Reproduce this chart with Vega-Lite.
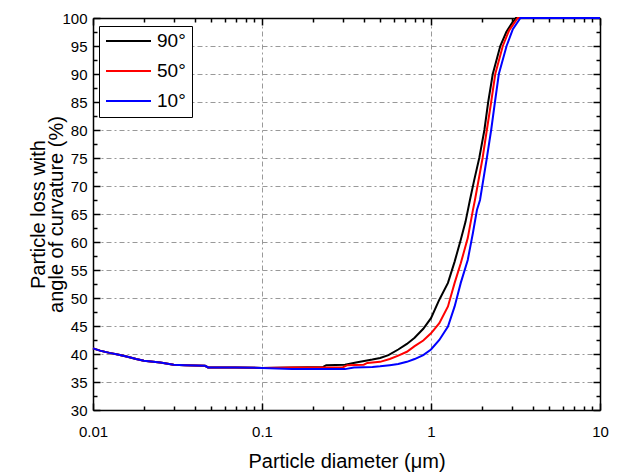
{
  "$schema": "https://vega.github.io/schema/vega-lite/v6.json",
  "autosize": "none",
  "padding": {"left": 93, "top": 18, "right": 22, "bottom": 65},
  "width": 507,
  "height": 392,
  "background": "white",
  "config": {
    "font": "Liberation Sans",
    "view": {"stroke": null},
    "axis": {
      "domainColor": "black",
      "domainWidth": 1.5,
      "tickColor": "black",
      "tickWidth": 1.5,
      "labelColor": "black",
      "titleColor": "black",
      "labelFont": "Liberation Sans",
      "titleFont": "Liberation Sans",
      "labelFontSize": 15,
      "titleFontSize": 20,
      "titleFontWeight": "normal",
      "labelFlush": false,
      "gridColor": "#999999",
      "gridDash": [5, 3, 2, 3],
      "gridWidth": 1,
      "gridOpacity": 1
    }
  },
  "data": {
    "values": [
      {"d": 0.01, "v": 41.0, "a": "90°"},
      {"d": 0.011, "v": 40.6, "a": "90°"},
      {"d": 0.0125, "v": 40.2, "a": "90°"},
      {"d": 0.014, "v": 39.9, "a": "90°"},
      {"d": 0.016, "v": 39.5, "a": "90°"},
      {"d": 0.018, "v": 39.1, "a": "90°"},
      {"d": 0.02, "v": 38.8, "a": "90°"},
      {"d": 0.025, "v": 38.5, "a": "90°"},
      {"d": 0.03, "v": 38.1, "a": "90°"},
      {"d": 0.035, "v": 38.0, "a": "90°"},
      {"d": 0.046, "v": 37.9, "a": "90°"},
      {"d": 0.048, "v": 37.6, "a": "90°"},
      {"d": 0.07, "v": 37.6, "a": "90°"},
      {"d": 0.1, "v": 37.5, "a": "90°"},
      {"d": 0.15, "v": 37.6, "a": "90°"},
      {"d": 0.23, "v": 37.7, "a": "90°"},
      {"d": 0.24, "v": 38.0, "a": "90°"},
      {"d": 0.31, "v": 38.1, "a": "90°"},
      {"d": 0.36, "v": 38.5, "a": "90°"},
      {"d": 0.45, "v": 39.0, "a": "90°"},
      {"d": 0.5, "v": 39.3, "a": "90°"},
      {"d": 0.56, "v": 39.8, "a": "90°"},
      {"d": 0.64, "v": 40.8, "a": "90°"},
      {"d": 0.72, "v": 41.8, "a": "90°"},
      {"d": 0.8, "v": 42.9, "a": "90°"},
      {"d": 0.9, "v": 44.5, "a": "90°"},
      {"d": 1.0, "v": 46.4, "a": "90°"},
      {"d": 1.12, "v": 49.7, "a": "90°"},
      {"d": 1.26, "v": 52.7, "a": "90°"},
      {"d": 1.38, "v": 56.5, "a": "90°"},
      {"d": 1.5, "v": 60.4, "a": "90°"},
      {"d": 1.6, "v": 63.6, "a": "90°"},
      {"d": 1.7, "v": 67.5, "a": "90°"},
      {"d": 1.8, "v": 71.0, "a": "90°"},
      {"d": 1.93, "v": 75.0, "a": "90°"},
      {"d": 2.07, "v": 80.0, "a": "90°"},
      {"d": 2.18, "v": 85.0, "a": "90°"},
      {"d": 2.32, "v": 90.0, "a": "90°"},
      {"d": 2.57, "v": 95.0, "a": "90°"},
      {"d": 2.79, "v": 97.5, "a": "90°"},
      {"d": 3.0, "v": 99.0, "a": "90°"},
      {"d": 3.18, "v": 100.0, "a": "90°"},
      {"d": 10, "v": 100.0, "a": "90°"},

      {"d": 0.01, "v": 41.0, "a": "50°"},
      {"d": 0.011, "v": 40.6, "a": "50°"},
      {"d": 0.0125, "v": 40.2, "a": "50°"},
      {"d": 0.014, "v": 39.9, "a": "50°"},
      {"d": 0.016, "v": 39.5, "a": "50°"},
      {"d": 0.018, "v": 39.1, "a": "50°"},
      {"d": 0.02, "v": 38.8, "a": "50°"},
      {"d": 0.025, "v": 38.5, "a": "50°"},
      {"d": 0.03, "v": 38.1, "a": "50°"},
      {"d": 0.035, "v": 38.0, "a": "50°"},
      {"d": 0.046, "v": 37.9, "a": "50°"},
      {"d": 0.048, "v": 37.6, "a": "50°"},
      {"d": 0.07, "v": 37.6, "a": "50°"},
      {"d": 0.1, "v": 37.5, "a": "50°"},
      {"d": 0.15, "v": 37.6, "a": "50°"},
      {"d": 0.3, "v": 37.6, "a": "50°"},
      {"d": 0.32, "v": 38.0, "a": "50°"},
      {"d": 0.4, "v": 38.1, "a": "50°"},
      {"d": 0.42, "v": 38.4, "a": "50°"},
      {"d": 0.5, "v": 38.6, "a": "50°"},
      {"d": 0.57, "v": 39.1, "a": "50°"},
      {"d": 0.64, "v": 39.7, "a": "50°"},
      {"d": 0.72, "v": 40.4, "a": "50°"},
      {"d": 0.8, "v": 41.4, "a": "50°"},
      {"d": 0.9, "v": 42.4, "a": "50°"},
      {"d": 1.0, "v": 43.7, "a": "50°"},
      {"d": 1.12, "v": 45.5, "a": "50°"},
      {"d": 1.26, "v": 48.5, "a": "50°"},
      {"d": 1.38, "v": 52.7, "a": "50°"},
      {"d": 1.5, "v": 56.2, "a": "50°"},
      {"d": 1.65, "v": 60.7, "a": "50°"},
      {"d": 1.77, "v": 65.7, "a": "50°"},
      {"d": 1.82, "v": 67.5, "a": "50°"},
      {"d": 2.02, "v": 75.0, "a": "50°"},
      {"d": 2.14, "v": 80.0, "a": "50°"},
      {"d": 2.27, "v": 85.0, "a": "50°"},
      {"d": 2.4, "v": 90.0, "a": "50°"},
      {"d": 2.66, "v": 95.0, "a": "50°"},
      {"d": 2.9, "v": 97.8, "a": "50°"},
      {"d": 3.26, "v": 100.0, "a": "50°"},
      {"d": 10, "v": 100.0, "a": "50°"},

      {"d": 0.01, "v": 41.0, "a": "10°"},
      {"d": 0.011, "v": 40.6, "a": "10°"},
      {"d": 0.0125, "v": 40.2, "a": "10°"},
      {"d": 0.014, "v": 39.9, "a": "10°"},
      {"d": 0.016, "v": 39.5, "a": "10°"},
      {"d": 0.018, "v": 39.1, "a": "10°"},
      {"d": 0.02, "v": 38.8, "a": "10°"},
      {"d": 0.025, "v": 38.5, "a": "10°"},
      {"d": 0.03, "v": 38.1, "a": "10°"},
      {"d": 0.035, "v": 38.0, "a": "10°"},
      {"d": 0.046, "v": 37.9, "a": "10°"},
      {"d": 0.048, "v": 37.6, "a": "10°"},
      {"d": 0.07, "v": 37.6, "a": "10°"},
      {"d": 0.1, "v": 37.5, "a": "10°"},
      {"d": 0.15, "v": 37.3, "a": "10°"},
      {"d": 0.31, "v": 37.3, "a": "10°"},
      {"d": 0.35, "v": 37.6, "a": "10°"},
      {"d": 0.45, "v": 37.7, "a": "10°"},
      {"d": 0.5, "v": 37.8, "a": "10°"},
      {"d": 0.57, "v": 38.0, "a": "10°"},
      {"d": 0.64, "v": 38.2, "a": "10°"},
      {"d": 0.72, "v": 38.6, "a": "10°"},
      {"d": 0.8, "v": 39.1, "a": "10°"},
      {"d": 0.9, "v": 39.8, "a": "10°"},
      {"d": 1.0, "v": 40.8, "a": "10°"},
      {"d": 1.12, "v": 42.5, "a": "10°"},
      {"d": 1.26, "v": 44.9, "a": "10°"},
      {"d": 1.38, "v": 48.5, "a": "10°"},
      {"d": 1.5, "v": 52.7, "a": "10°"},
      {"d": 1.65, "v": 56.8, "a": "10°"},
      {"d": 1.77, "v": 61.6, "a": "10°"},
      {"d": 1.87, "v": 65.7, "a": "10°"},
      {"d": 1.95, "v": 67.5, "a": "10°"},
      {"d": 2.14, "v": 75.0, "a": "10°"},
      {"d": 2.27, "v": 80.0, "a": "10°"},
      {"d": 2.39, "v": 85.0, "a": "10°"},
      {"d": 2.52, "v": 90.0, "a": "10°"},
      {"d": 2.8, "v": 95.0, "a": "10°"},
      {"d": 3.05, "v": 98.0, "a": "10°"},
      {"d": 3.38, "v": 100.0, "a": "10°"},
      {"d": 10, "v": 100.0, "a": "10°"}
    ]
  },
  "resolve": {"axis": {"x": "independent", "y": "independent"}},
  "layer": [
    {
      "mark": {"type": "line", "strokeOpacity": 0},
      "encoding": {
        "x": {"field": "d", "type": "quantitative", "scale": {"type": "log", "domain": [0.01, 10], "nice": false},
          "axis": {"orient": "bottom", "values": [0.02,0.03,0.04,0.05,0.06,0.07,0.08,0.09,0.2,0.3,0.4,0.5,0.6,0.7,0.8,0.9,2,3,4,5,6,7,8,9], "labels": false, "grid": false, "domain": false, "tickSize": -4, "title": null}},
        "y": {"field": "v", "type": "quantitative", "scale": {"domain": [30, 100], "nice": false, "zero": false},
          "axis": {"orient": "left", "values": [32.5,37.5,42.5,47.5,52.5,57.5,62.5,67.5,72.5,77.5,82.5,87.5,92.5,97.5], "labels": false, "grid": false, "domain": false, "tickSize": -4, "title": null}},
        "detail": {"field": "a"}
      }
    },
    {
      "mark": {"type": "line", "strokeOpacity": 0},
      "encoding": {
        "x": {"field": "d", "type": "quantitative",
          "axis": {"orient": "top", "values": [0.02,0.03,0.04,0.05,0.06,0.07,0.08,0.09,0.2,0.3,0.4,0.5,0.6,0.7,0.8,0.9,2,3,4,5,6,7,8,9], "labels": false, "grid": false, "domain": false, "tickSize": -4, "title": null}},
        "y": {"field": "v", "type": "quantitative",
          "axis": {"orient": "right", "values": [32.5,37.5,42.5,47.5,52.5,57.5,62.5,67.5,72.5,77.5,82.5,87.5,92.5,97.5], "labels": false, "grid": false, "domain": false, "tickSize": -4, "title": null}},
        "detail": {"field": "a"}
      }
    },
    {
      "mark": {"type": "line", "strokeOpacity": 0},
      "encoding": {
        "x": {"field": "d", "type": "quantitative",
          "axis": {"orient": "top", "values": [0.01, 0.1, 1, 10], "labels": false, "grid": false, "tickSize": -7, "title": null}},
        "y": {"field": "v", "type": "quantitative",
          "axis": {"orient": "right", "values": [30,35,40,45,50,55,60,65,70,75,80,85,90,95,100], "labels": false, "grid": false, "tickSize": -7, "title": null}},
        "detail": {"field": "a"}
      }
    },
    {
      "mark": {"type": "line", "strokeWidth": 2, "interpolate": "linear"},
      "encoding": {
        "x": {"field": "d", "type": "quantitative",
          "axis": {"orient": "bottom", "values": [0.01, 0.1, 1, 10], "format": "~g", "grid": true, "tickSize": -7, "labelPadding": 21, "title": "Particle diameter (μm)", "titlePadding": 12}},
        "y": {"field": "v", "type": "quantitative",
          "axis": {"orient": "left", "values": [30,35,40,45,50,55,60,65,70,75,80,85,90,95,100], "grid": true, "tickSize": -7, "labelPadding": 13, "title": ["Particle loss with", "angle of curvature (%)"], "titleLineHeight": 18, "titlePadding": -5}},
        "color": {"field": "a", "type": "nominal",
          "scale": {"domain": ["90°", "50°", "10°"], "range": ["#000000", "#ff0000", "#0000ff"]},
          "legend": {"title": null, "orient": "none", "legendX": 6, "legendY": 8, "symbolType": "stroke", "symbolSize": 2025, "symbolStrokeWidth": 1.8, "clipHeight": 18, "rowPadding": 11, "labelFontSize": 19, "labelFont": "Liberation Sans", "labelColor": "black", "labelOffset": 5, "padding": 6, "strokeColor": "black", "fillColor": "white", "cornerRadius": 0}}
      }
    }
  ]
}
